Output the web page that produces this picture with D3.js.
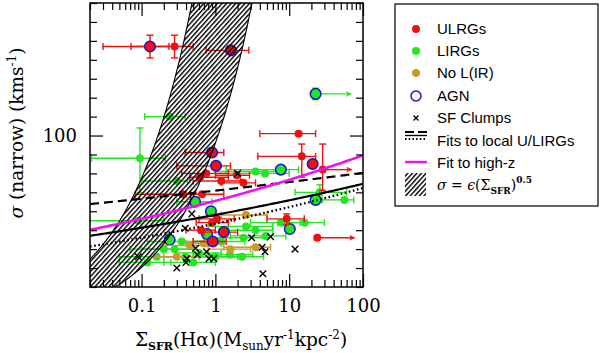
<!DOCTYPE html>
<html>
<head>
<meta charset="utf-8">
<script src="https://cdn.jsdelivr.net/npm/d3@7"></script>
<style>
  body { margin: 0; background: #fff; }
  svg { display: block; }
</style>
</head>
<body>
<svg id="chart" width="600" height="353"></svg>
<script>
// columns: [sigmaSFR, sigma, sfrLo, sfrHi, sigLo, sigHi, agn, arrowTo]
const ulrgs = [
  [0.13, 147, 0.030, 0.235, 141, 153, 1, null],
  [0.28, 147, 0.072, 0.50, 141, 153, 0, null],
  [1.62, 145, 0.75, 2.84, null, null, 1, null],
  [13.4, 101, 4.0, 22.8, null, null, 0, null],
  [14.8, 89, 3.75, 22.8, 78, 95.5, 0, null],
  [20.8, 85, null, null, null, null, 1, null],
  [28.4, 82, null, null, 71, 95.5, 0, 70],
  [0.90, 91, 0.39, 1.3, null, null, 1, null],
  [1.02, 84, 0.30, 1.6, null, null, 1, null],
  [0.62, 78, 0.45, 1.5, null, null, 0, null],
  [0.75, 80, 0.35, 1.5, null, null, 0, null],
  [1.2, 76, 0.5, 2.2, null, null, 0, null],
  [0.36, 69, 0.082, 0.40, null, null, 0, null],
  [0.66, 69, 0.46, 1.3, null, null, 0, null],
  [1.95, 79, 1.0, 2.9, null, null, 0, null],
  [2.4, 75, 1.2, 3.5, null, null, 0, null],
  [9.25, 56, 5.0, 16, 53, 58.6, 0, null],
  [24, 46, null, null, null, null, 0, 77],
  [1.05, 56, 0.6, 1.8, null, null, 0, null],
  [0.92, 44, 0.5, 1.4, null, null, 1, null],
  [1.3, 49, 0.7, 2.0, null, null, 1, null],
  [0.90, 54, 0.55, 1.5, null, null, 0, null],
  [0.64, 50, 0.4, 1.0, null, null, 0, null]
];

const lirgs = [
  [0.095, 88, 0.021, 0.21, 70, 104, 0, null],
  [0.24, 110, 0.11, 0.39, null, null, 0, null],
  [22.8, 122, null, null, 119, 125, 1, 69],
  [0.53, 65, 0.3, 0.9, null, null, 1, null],
  [0.87, 60, null, null, null, null, 1, null],
  [7.7, 82, 1.4, 13.4, null, null, 1, null],
  [3.5, 81, 1.0, 7.0, null, null, 0, null],
  [4.7, 80, 1.5, 10, null, null, 0, null],
  [26, 70, 12, 60, 65, 74, 0, null],
  [22.8, 66, null, null, null, null, 1, null],
  [56, 66, 28, 75, null, null, 0, null],
  [7.9, 54, 3.0, 14, null, null, 0, null],
  [16.2, 54, 7.0, 30, null, null, 0, null],
  [10.2, 50.6, null, null, null, null, 1, null],
  [2.6, 52, 0.8, 6.0, null, null, 0, null],
  [3.5, 50, 1.5, 6.0, null, null, 0, null],
  [2.4, 46, 0.9, 5.0, null, null, 0, null],
  [4.8, 47, 1.6, 9.0, null, null, 0, null],
  [1.57, 37, 0.5, 3.2, null, null, 0, null],
  [2.3, 36, 1.0, 4.5, null, null, 0, null],
  [0.24, 45, null, null, null, null, 1, null],
  [0.77, 48, null, null, null, null, 1, null],
  [0.16, 36, 0.05, 0.3, null, null, 0, null],
  [0.39, 36, 0.2, 0.8, null, null, 0, null],
  [0.30, 76, 0.1, 0.42, null, null, 0, null],
  [0.09, 55, 0.02, 0.2, null, null, 0, null],
  [0.12, 33, 0.05, 0.25, null, null, 0, null],
  [0.2, 40, 0.07, 0.5, null, null, 0, null],
  [0.6, 38, 0.3, 1.2, null, null, 0, null],
  [1.2, 44, 0.5, 2.5, null, null, 0, null],
  [0.35, 44, 0.12, 0.7, null, null, 0, null],
  [0.5, 33, 0.2, 1.0, null, null, 0, null],
  [1.0, 36, 0.5, 2.0, null, null, 0, null],
  [0.28, 40, 0.1, 0.5, null, null, 0, null]
];

const noLIR = [
  [2.6, 58, 1.2, 5.0, null, null, 0, null],
  [3.5, 41, 1.3, 5.6, null, null, 0, null],
  [0.30, 36, 0.15, 0.6, null, null, 0, null],
  [0.45, 42, 0.2, 0.8, null, null, 0, null],
  [0.7, 43, 0.4, 1.2, null, null, 0, null],
  [1.6, 40, 0.8, 3.0, null, null, 0, null]
];

// [sigmaSFR, sigma]
const sfClumps = [
  [0.48, 58.6], [2.0, 80], [3.1, 46], [5.6, 46.6], [4.3, 41], [4.7, 38.6],
  [12, 40], [4.4, 27], [0.09, 36], [0.30, 30], [0.41, 35], [0.54, 40.5],
  [0.57, 37], [0.76, 38.6], [0.82, 35], [0.95, 35], [0.39, 51], [0.40, 33]
];

// power-law fits sigma = A * sigmaSFR^b
const fitNames = ["localDashed", "localSolid", "localDotted", "highZ"];
const fitA = [70.9, 58.1, 53.5, 65.5];
const fitB = [0.027, 0.054, 0.0655, 0.068];

// sigma = eps * sigmaSFR^0.5, band of eps
const epsRange = [96, 245];

const xTickLabels = [0.1, 1, 10, 100];
const yTickLabels = [100];

const legendLabels = ["ULRGs", "LIRGs", "No L(IR)", "AGN", "SF Clumps", "Fits to local U/LIRGs", "Fit to high-z"];

const RED = "#f01010", GREEN = "#22e622", GOLD = "#c99a2e", BLUE = "#1515d0", MAGENTA = "#f010f0";

const svg = d3.select("#chart");
const px0 = 90, px1 = 363, py0 = 3, py1 = 287;

const x = d3.scaleLog().domain([0.02, 100]).range([px0, px1]);
const y = d3.scaleLinear().domain([20, 170]).range([py1, py0]);

const defs = svg.append("defs");
defs.append("clipPath").attr("id", "plotclip")
  .append("rect").attr("x", px0).attr("y", py0).attr("width", px1 - px0).attr("height", py1 - py0);

const hatch = defs.append("pattern").attr("id", "hatch")
  .attr("patternUnits", "userSpaceOnUse")
  .attr("width", 3.4).attr("height", 10)
  .attr("patternTransform", "rotate(42)");
hatch.append("line").attr("x1", 0.7).attr("y1", 0).attr("x2", 0.7).attr("y2", 10)
  .attr("stroke", "#000").attr("stroke-width", 1.4);

[["red", RED], ["green", GREEN]].forEach(([id, c]) => {
  defs.append("marker").attr("id", "arrow-" + id)
    .attr("viewBox", "0 0 10 10").attr("refX", 9).attr("refY", 5)
    .attr("markerWidth", 10).attr("markerHeight", 6).attr("markerUnits", "userSpaceOnUse")
    .attr("orient", "auto")
    .append("path").attr("d", "M0,0 L10,5 L0,10 L3,5 Z").attr("fill", c);
});

const plot = svg.append("g").attr("clip-path", "url(#plotclip)");

// error bars + markers
function drawGroup(data, color, arrowId) {
  const g = plot.append("g");
  data.forEach(d => {
    const [s, v, sLo, sHi, vLo, vHi, agn, arrowTo] = d;
    const cx = x(s), cy = y(v);
    if (sLo != null) {
      g.append("line").attr("x1", x(sLo)).attr("x2", x(sHi)).attr("y1", cy).attr("y2", cy)
        .attr("stroke", color).attr("stroke-width", 1.4);
      [sLo, sHi].forEach(e => g.append("line").attr("x1", x(e)).attr("x2", x(e))
        .attr("y1", cy - 3.5).attr("y2", cy + 3.5).attr("stroke", color).attr("stroke-width", 1.4));
    }
    if (vLo != null) {
      g.append("line").attr("x1", cx).attr("x2", cx).attr("y1", y(vLo)).attr("y2", y(vHi))
        .attr("stroke", color).attr("stroke-width", 1.4);
      [vLo, vHi].forEach(e => g.append("line").attr("x1", cx - 3.5).attr("x2", cx + 3.5)
        .attr("y1", y(e)).attr("y2", y(e)).attr("stroke", color).attr("stroke-width", 1.4));
    }
    if (arrowTo != null) {
      g.append("line").attr("x1", cx).attr("x2", x(arrowTo)).attr("y1", cy).attr("y2", cy)
        .attr("stroke", color).attr("stroke-width", 1.4)
        .attr("marker-end", "url(#arrow-" + arrowId + ")");
    }
  });
  data.forEach(d => {
    const [s, v, , , , , agn] = d;
    g.append("circle").attr("cx", x(s)).attr("cy", y(v))
      .attr("r", agn ? 5.3 : 4)
      .attr("fill", color)
      .attr("stroke", agn ? BLUE : "none")
      .attr("stroke-width", agn ? 1.5 : 0);
  });
}

drawGroup(lirgs, GREEN, "green");
drawGroup(noLIR, GOLD, "gold");
drawGroup(ulrgs, RED, "red");

// SF clumps
plot.append("g").selectAll("path").data(sfClumps).join("path")
  .attr("d", d => `M${x(d[0]) - 3.3},${y(d[1]) - 3.3}L${x(d[0]) + 3.3},${y(d[1]) + 3.3}M${x(d[0]) - 3.3},${y(d[1]) + 3.3}L${x(d[0]) + 3.3},${y(d[1]) - 3.3}`)
  .attr("stroke", "#000").attr("stroke-width", 1.4).attr("fill", "none");

// hatched band sigma = eps * sigmaSFR^0.5
const sGrid = d3.range(0, 201).map(i => Math.pow(10, Math.log10(0.02) + i * (Math.log10(100) - Math.log10(0.02)) / 200));
const upper = sGrid.map(s => [x(s), y(epsRange[1] * Math.sqrt(s))]);
const lower = sGrid.map(s => [x(s), y(epsRange[0] * Math.sqrt(s))]);
const band = upper.concat(lower.slice().reverse());
plot.append("path").attr("d", d3.line()(band) + "Z").attr("fill", "url(#hatch)").attr("stroke", "none");
[upper, lower].forEach(c => plot.append("path").attr("d", d3.line()(c))
  .attr("fill", "none").attr("stroke", "#000").attr("stroke-width", 1.1));

// fit lines
const fitStyle = {
  localDashed: { color: "#000", width: 2.2, dash: "9,5" },
  localSolid: { color: "#000", width: 2.2, dash: null },
  localDotted: { color: "#000", width: 2.4, dash: "1.6,2.6" },
  highZ: { color: MAGENTA, width: 2.6, dash: null }
};
const fitLine = d3.line().x(d => x(d[0])).y(d => y(d[1]));
fitNames.forEach((name, i) => {
  const pts = sGrid.map(s => [s, fitA[i] * Math.pow(s, fitB[i])]);
  const st = fitStyle[name];
  plot.append("path").attr("d", fitLine(pts))
    .attr("fill", "none").attr("stroke", st.color).attr("stroke-width", st.width)
    .attr("stroke-dasharray", st.dash);
});

// axes: ticks inward on all four sides
const minorX = x.ticks().filter(t => !xTickLabels.includes(t));
const minorY = d3.range(20, 171, 10).filter(t => !yTickLabels.includes(t));
const serif = "DejaVu Serif, serif";

function styleAxis(g) {
  g.select(".domain").remove();
  g.selectAll("line").attr("stroke", "#000").attr("stroke-width", 1.2);
  g.selectAll("text").attr("font-family", serif).attr("font-size", 18).attr("fill", "#000");
}

svg.append("g").attr("transform", `translate(0,${py1})`)
  .call(d3.axisBottom(x).tickValues(minorX).tickSize(-7).tickFormat("")).call(styleAxis);
svg.append("g").attr("transform", `translate(0,${py1})`)
  .call(d3.axisBottom(x).tickValues(xTickLabels).tickSize(-13).tickPadding(12).tickFormat(d3.format("~g"))).call(styleAxis);
svg.append("g").attr("transform", `translate(0,${py0})`)
  .call(d3.axisTop(x).tickValues(minorX).tickSize(-7).tickFormat("")).call(styleAxis);
svg.append("g").attr("transform", `translate(0,${py0})`)
  .call(d3.axisTop(x).tickValues(xTickLabels).tickSize(-13).tickFormat("")).call(styleAxis);

svg.append("g").attr("transform", `translate(${px0},0)`)
  .call(d3.axisLeft(y).tickValues(minorY).tickSize(-7).tickFormat("")).call(styleAxis);
svg.append("g").attr("transform", `translate(${px0},0)`)
  .call(d3.axisLeft(y).tickValues(yTickLabels).tickSize(-13).tickPadding(13).tickFormat(d3.format("d"))).call(styleAxis);
svg.append("g").attr("transform", `translate(${px1},0)`)
  .call(d3.axisRight(y).tickValues(minorY).tickSize(-7).tickFormat("")).call(styleAxis);
svg.append("g").attr("transform", `translate(${px1},0)`)
  .call(d3.axisRight(y).tickValues(yTickLabels).tickSize(-13).tickFormat("")).call(styleAxis);

svg.append("rect").attr("x", px0).attr("y", py0).attr("width", px1 - px0).attr("height", py1 - py0)
  .attr("fill", "none").attr("stroke", "#000").attr("stroke-width", 1.5);

// axis titles
const xt = svg.append("text").attr("x", 241).attr("y", 346).attr("text-anchor", "middle")
  .attr("font-family", serif).attr("font-size", 18.5).attr("fill", "#000");
xt.append("tspan").text("Σ");
xt.append("tspan").attr("dy", 4).attr("font-size", 11).attr("font-weight", "bold").text("SFR");
xt.append("tspan").attr("dy", -4).text("(Hα)(M");
xt.append("tspan").attr("dy", 4).attr("font-size", 12).text("sun");
xt.append("tspan").attr("dy", -4).text("yr");
xt.append("tspan").attr("dy", -7).attr("font-size", 12).text("-1");
xt.append("tspan").attr("dy", 7).text("kpc");
xt.append("tspan").attr("dy", -7).attr("font-size", 12).text("-2");
xt.append("tspan").attr("dy", 7).text(")");

const yt = svg.append("text").attr("transform", "translate(23,133) rotate(-90)")
  .attr("text-anchor", "middle").attr("font-family", serif).attr("font-size", 18.5).attr("fill", "#000");
yt.append("tspan").attr("font-style", "italic").text("σ");
yt.append("tspan").text(" (narrow) (kms");
yt.append("tspan").attr("dy", -7).attr("font-size", 12).text("-1");
yt.append("tspan").attr("dy", 7).text(")");

// legend
const lg = svg.append("g");
lg.append("rect").attr("x", 395).attr("y", 4).attr("width", 203).attr("height", 202)
  .attr("fill", "#fff").attr("stroke", "#000").attr("stroke-width", 1.2);
const symX = 416, txtX = 437;
const rowY = [29, 51, 73, 96, 118, 141, 163, 185];
lg.append("circle").attr("cx", symX).attr("cy", rowY[0]).attr("r", 4).attr("fill", RED);
lg.append("circle").attr("cx", symX).attr("cy", rowY[1]).attr("r", 4).attr("fill", GREEN);
lg.append("circle").attr("cx", symX).attr("cy", rowY[2]).attr("r", 4).attr("fill", GOLD);
lg.append("circle").attr("cx", symX).attr("cy", rowY[3]).attr("r", 5).attr("fill", "none").attr("stroke", BLUE).attr("stroke-width", 1.5);
lg.append("path").attr("d", `M${symX - 2.5},${rowY[4] - 2.5}L${symX + 2.5},${rowY[4] + 2.5}M${symX - 2.5},${rowY[4] + 2.5}L${symX + 2.5},${rowY[4] - 2.5}`)
  .attr("stroke", "#000").attr("stroke-width", 1.4);
lg.append("line").attr("x1", 405).attr("x2", 427).attr("y1", 132).attr("y2", 132)
  .attr("stroke", "#000").attr("stroke-width", 2.2).attr("stroke-dasharray", "9,4");
lg.append("line").attr("x1", 405).attr("x2", 427).attr("y1", 135.5).attr("y2", 135.5)
  .attr("stroke", "#000").attr("stroke-width", 1.4);
lg.append("line").attr("x1", 405).attr("x2", 427).attr("y1", 139).attr("y2", 139)
  .attr("stroke", "#000").attr("stroke-width", 2).attr("stroke-dasharray", "1.5,2.2");
lg.append("line").attr("x1", 405).attr("x2", 427).attr("y1", 162).attr("y2", 162)
  .attr("stroke", MAGENTA).attr("stroke-width", 2.4);
lg.append("rect").attr("x", 405).attr("y", 173).attr("width", 21).attr("height", 23)
  .attr("fill", "url(#hatch)");

lg.selectAll("text.lab").data(legendLabels).join("text").attr("class", "lab")
  .attr("x", txtX).attr("y", (d, i) => rowY[i]).attr("dy", "0.36em")
  .attr("font-family", "Liberation Sans, Arial, sans-serif").attr("font-size", 15).attr("fill", "#000")
  .text(d => d);

const eq = lg.append("text").attr("x", txtX).attr("y", rowY[7]).attr("dy", "0.36em")
  .attr("font-family", serif).attr("font-size", 14).attr("fill", "#000");
eq.append("tspan").attr("font-style", "italic").text("σ");
eq.append("tspan").text(" = ");
eq.append("tspan").attr("font-style", "italic").text("ϵ");
eq.append("tspan").text("(Σ");
eq.append("tspan").attr("dy", 4).attr("font-size", 9).attr("font-weight", "bold").text("SFR");
eq.append("tspan").attr("dy", -4).text(")");
eq.append("tspan").attr("dy", -7).attr("font-size", 9).attr("font-weight", "bold").text("0.5");
</script>
</body>
</html>
